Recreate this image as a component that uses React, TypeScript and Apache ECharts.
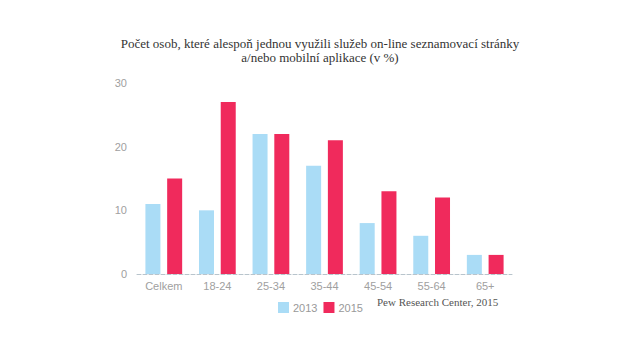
import React, { useEffect, useRef } from "react";
import * as echarts from "echarts";

const categories = ["Celkem", "18-24", "25-34", "35-44", "45-54", "55-64", "65+"];
const values2013 = [11, 10, 22, 17, 8, 6, 3];
const values2015 = [15, 27, 22, 21, 13, 12, 3];
const seriesNames = ["2013", "2015"];
const titleText = "Počet osob, které alespoň jednou využili služeb on-line seznamovací stránky\na/nebo mobilní aplikace (v %)";
const sourceText = "Pew Research Center, 2015";

export default function App() {
  const ref = useRef<HTMLDivElement>(null);
  useEffect(() => {
    const chart = echarts.init(ref.current!, null, { renderer: "svg" });
    chart.setOption({
      animation: false,
      backgroundColor: "#ffffff",
      title: {
        text: titleText,
        left: "center",
        top: 31,
        textStyle: {
          fontFamily: "Liberation Serif",
          fontSize: 13,
          fontWeight: "normal",
          color: "#333",
          lineHeight: 14,
        },
      },
      legend: {
        data: seriesNames,
        left: 273,
        top: 297,
        itemWidth: 11,
        itemHeight: 11,
        itemGap: 6,
        icon: "rect",
        textStyle: { fontFamily: "Liberation Sans", fontSize: 11, color: "#999", padding: [0, 0, 0, -1] },
      },
      graphic: [
        {
          type: "text",
          left: 377,
          top: 296,
          style: {
            text: sourceText,
            fontFamily: "Liberation Serif",
            fontSize: 11,
            fill: "#555",
          },
        },
      ],
      grid: { left: 137, right: 128, top: 83, bottom: 86 },
      xAxis: {
        type: "category",
        data: categories,
        axisLine: { show: true, lineStyle: { color: "#b8c4cc", type: "dashed" } },
        axisTick: { show: false },
        axisLabel: { color: "#a0a0a0", fontFamily: "Liberation Sans", fontSize: 11, margin: 6 },
      },
      yAxis: {
        type: "value",
        min: 0,
        max: 30,
        interval: 10,
        splitLine: { show: false },
        axisLine: { show: false },
        axisTick: { show: false },
        axisLabel: { color: "#a0a0a0", fontFamily: "Liberation Sans", fontSize: 11, margin: 10 },
      },
      series: [
        {
          name: seriesNames[0],
          type: "bar",
          data: values2013,
          itemStyle: { color: "#aadcf6" },
          barWidth: 15,
          barGap: "45%",
        },
        {
          name: seriesNames[1],
          type: "bar",
          data: values2015,
          itemStyle: { color: "#f02a5c" },
          barWidth: 15,
          barGap: "45%",
        },
      ],
    });
    return () => chart.dispose();
  }, []);
  return (
    <div
      ref={ref}
      style={{ width: 640, height: 360, position: "absolute", left: 0, top: 0 }}
    />
  );
}
